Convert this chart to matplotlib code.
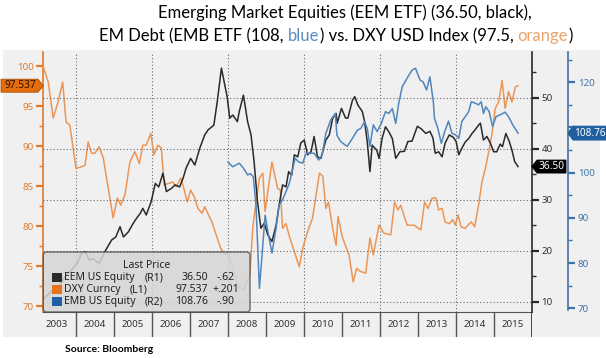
import numpy as np
import matplotlib.pyplot as plt
from matplotlib.patches import Rectangle, Polygon, FancyBboxPatch
from matplotlib.ticker import MultipleLocator

W, H = 606, 358

# --- data ---
dxy_t = [2003.14, 2003.27, 2003.40, 2003.53, 2003.65, 2003.74, 2003.84, 2004.00, 2004.15, 2004.24,
         2004.32, 2004.41, 2004.50, 2004.61, 2004.72, 2004.85, 2004.98, 2005.09, 2005.18, 2005.29,
         2005.42, 2005.55, 2005.67, 2005.76, 2005.85, 2005.97, 2006.05, 2006.16, 2006.25, 2006.32,
         2006.42, 2006.55, 2006.64, 2006.76, 2006.84, 2006.93, 2007.02, 2007.13, 2007.21, 2007.32,
         2007.39, 2007.49, 2007.58, 2007.69, 2007.81, 2007.93, 2008.00, 2008.13, 2008.27, 2008.42,
         2008.58, 2008.66, 2008.83, 2008.92, 2008.98, 2009.16, 2009.31, 2009.38, 2009.44, 2009.53,
         2009.62, 2009.75, 2009.88, 2009.97, 2010.10, 2010.23, 2010.41, 2010.50, 2010.58, 2010.65,
         2010.76, 2010.85, 2010.90, 2011.01, 2011.10, 2011.19, 2011.30, 2011.39, 2011.50, 2011.63,
         2011.74, 2011.83, 2011.98, 2012.11, 2012.29, 2012.39, 2012.48, 2012.55, 2012.72, 2012.90,
         2013.08, 2013.18, 2013.27, 2013.38, 2013.48, 2013.55, 2013.64, 2013.72, 2013.83, 2013.92,
         2013.99, 2014.06, 2014.14, 2014.25, 2014.32, 2014.41, 2014.50, 2014.60, 2014.69, 2014.78,
         2014.87, 2014.95, 2015.04, 2015.13, 2015.22, 2015.30, 2015.39, 2015.48, 2015.57, 2015.64]
dxy_v = [99.9, 98.0, 93.5, 95.5, 98.0, 93.0, 92.6, 87.2, 87.4, 87.6,
         90.5, 89.1, 89.1, 89.9, 88.5, 84.7, 81.0, 83.5, 82.6, 83.9,
         88.0, 89.3, 87.8, 90.1, 90.1, 91.6, 88.9, 90.1, 89.7, 85.1,
         85.3, 85.5, 84.9, 86.0, 84.7, 83.0, 84.5, 83.5, 82.2, 81.6,
         82.4, 81.4, 80.5, 78.9, 77.2, 76.4, 76.6, 74.7, 72.5, 72.0,
         74.0, 80.0, 86.0, 86.6, 81.8, 88.0, 84.7, 84.5, 79.7, 80.3,
         78.7, 76.8, 74.9, 77.2, 79.3, 81.0, 86.6, 86.2, 82.2, 83.0,
         79.7, 77.6, 81.2, 78.7, 77.5, 76.4, 73.0, 74.7, 74.3, 74.1,
         78.5, 76.4, 80.1, 79.1, 78.9, 83.0, 82.0, 82.6, 80.1, 80.1,
         79.5, 83.0, 82.2, 83.5, 83.5, 82.0, 82.2, 80.5, 80.3, 80.8,
         80.1, 81.4, 79.9, 79.7, 80.1, 80.5, 79.9, 82.6, 85.5, 87.2,
         89.3, 91.4, 94.7, 95.5, 98.2, 94.7, 96.8, 95.5, 97.4, 97.537]

eem_t = [2003.14, 2003.35, 2003.58, 2003.74, 2003.93, 2004.05, 2004.15, 2004.24, 2004.35, 2004.46,
         2004.61, 2004.76, 2004.94, 2005.05, 2005.16, 2005.25, 2005.38, 2005.51, 2005.60, 2005.69,
         2005.76, 2005.85, 2005.98, 2006.09, 2006.18, 2006.29, 2006.38, 2006.51, 2006.61, 2006.73,
         2006.82, 2006.90, 2007.02, 2007.13, 2007.26, 2007.39, 2007.48, 2007.63, 2007.72, 2007.83,
         2007.92, 2007.98, 2008.05, 2008.13, 2008.25, 2008.30, 2008.41, 2008.52, 2008.61, 2008.69,
         2008.78, 2008.87, 2008.96, 2009.05, 2009.16, 2009.27, 2009.35, 2009.44, 2009.53, 2009.60,
         2009.68, 2009.75, 2009.84, 2009.92, 2010.01, 2010.10, 2010.19, 2010.27, 2010.36, 2010.45,
         2010.58, 2010.67, 2010.76, 2010.85, 2010.88, 2010.99, 2011.10, 2011.16, 2011.28, 2011.34,
         2011.42, 2011.54, 2011.60, 2011.67, 2011.74, 2011.80, 2011.92, 2011.98, 2012.06, 2012.15,
         2012.24, 2012.33, 2012.42, 2012.53, 2012.65, 2012.74, 2012.85, 2012.99, 2013.09, 2013.21,
         2013.32, 2013.40, 2013.46, 2013.55, 2013.64, 2013.72, 2013.83, 2013.94, 2014.01, 2014.08,
         2014.16, 2014.25, 2014.34, 2014.43, 2014.51, 2014.60, 2014.65, 2014.73, 2014.82, 2014.91,
         2015.00, 2015.08, 2015.17, 2015.23, 2015.32, 2015.41, 2015.48, 2015.55, 2015.64]
eem_v = [10.5, 12.0, 13.3, 15.2, 16.6, 17.8, 19.5, 19.8, 18.2, 18.4,
         17.5, 19.8, 22.1, 22.7, 24.7, 22.7, 23.7, 25.4, 26.4, 27.3,
         28.3, 27.0, 29.6, 33.2, 32.5, 35.2, 31.6, 32.2, 32.9, 32.5,
         34.2, 36.2, 38.1, 36.8, 40.1, 42.7, 43.7, 44.6, 49.2, 55.8,
         52.5, 50.2, 46.0, 46.6, 45.3, 47.3, 50.5, 45.3, 42.7, 37.5,
         29.6, 24.4, 25.4, 23.1, 21.8, 25.0, 29.0, 32.9, 32.5, 35.5,
         34.8, 38.8, 38.4, 41.1, 41.7, 38.8, 39.4, 42.4, 38.4, 38.1,
         41.7, 42.7, 46.0, 46.9, 45.0, 47.9, 46.0, 46.0, 49.5, 50.2,
         48.6, 47.3, 45.3, 41.4, 35.5, 40.7, 39.7, 38.1, 42.0, 44.3,
         43.3, 42.0, 38.1, 39.4, 39.5, 41.4, 41.5, 44.4, 43.9, 43.0,
         43.4, 42.1, 39.1, 39.4, 38.4, 41.1, 42.7, 42.2, 41.4, 38.8,
         40.1, 41.3, 42.0, 43.0, 43.7, 44.6, 45.0, 41.7, 42.4, 41.1,
         39.4, 39.4, 40.9, 40.4, 43.0, 41.4, 39.7, 37.5, 36.50]

emb_t = [2008.00, 2008.13, 2008.21, 2008.30, 2008.41, 2008.52, 2008.59, 2008.67, 2008.74, 2008.78,
         2008.83, 2008.90, 2008.98, 2009.07, 2009.16, 2009.27, 2009.35, 2009.44, 2009.53, 2009.62,
         2009.69, 2009.77, 2009.86, 2009.97, 2010.06, 2010.16, 2010.27, 2010.39, 2010.48, 2010.58,
         2010.71, 2010.83, 2010.87, 2010.97, 2011.14, 2011.28, 2011.41, 2011.50, 2011.60, 2011.67,
         2011.74, 2011.83, 2011.93, 2012.04, 2012.15, 2012.24, 2012.33, 2012.42, 2012.50, 2012.59,
         2012.74, 2012.85, 2012.94, 2013.06, 2013.14, 2013.23, 2013.32, 2013.41, 2013.44, 2013.53,
         2013.62, 2013.71, 2013.81, 2013.90, 2014.01, 2014.08, 2014.16, 2014.25, 2014.34, 2014.41,
         2014.51, 2014.60, 2014.67, 2014.73, 2014.79, 2014.88, 2014.97, 2015.06, 2015.17, 2015.30,
         2015.39, 2015.50, 2015.64]
emb_v = [102.4, 101.3, 101.7, 102.1, 101.0, 99.5, 99.8, 99.1, 92.9, 84.7,
         74.4, 81.8, 90.6, 86.2, 82.2, 87.7, 92.9, 94.0, 95.8, 97.7,
         100.2, 103.2, 102.4, 102.1, 104.3, 104.3, 104.3, 102.8, 103.9, 108.7,
         111.7, 113.1, 108.3, 106.9, 105.8, 107.6, 109.4, 109.8, 111.3, 109.8,
         105.8, 110.6, 109.1, 110.9, 113.5, 113.1, 114.2, 110.9, 115.4, 119.0,
         121.2, 122.7, 123.1, 120.5, 120.1, 118.3, 121.2, 115.7, 112.0, 109.8,
         106.5, 109.1, 111.4, 108.7, 108.3, 107.6, 111.3, 112.4, 113.5, 115.7,
         115.4, 115.0, 115.7, 113.1, 114.6, 113.5, 110.2, 112.4, 112.8, 113.4,
         112.4, 110.6, 108.76]

years = list(range(2003, 2016))
dxy_ticks = [70, 75, 80, 85, 90, 95, 100]
eem_ticks = [10, 20, 30, 40, 50]
emb_ticks = [70, 80, 90, 100, 110, 120]
emb_labels = ['70', '80', '90', '100', '', '120']  # 110 sits under the last-price tag

legend_rows = [
    ("EEM US Equity", "(R1)", "36.50", "-.62"),
    ("DXY Curncy", "(L1)", "97.537", "+.201"),
    ("EMB US Equity", "(R2)", "108.76", "-.90"),
]

ORANGE = '#ec9656'
ORANGE_AX = '#e07a2c'
BLACK = '#2a2a2a'
BLUE = '#5285bb'
BLUE_AX = '#3f72a6'
BG = '#f0f0f0'
GRID = '#6a6a6a'

TICK_FONT = 'Noto Sans'
TITLE_FONT = 'Lato'


def fx(x):
    return x / W


def fy(y):
    return 1 - y / H


fig = plt.figure(figsize=(W / 100, H / 100), dpi=100)
fig.patch.set_facecolor('white')

# grey chart background
fig.add_artist(Rectangle((fx(3), fy(337)), fx(600) - fx(3), fy(50) - fy(337),
                         transform=fig.transFigure, facecolor=BG, edgecolor='none', zorder=-5))

# plot area in pixels
L, R, T, B = 43.3, 531.7, 52, 312
rect = [fx(L), fy(B), fx(R) - fx(L), fy(T) - fy(B)]

ax = fig.add_axes(rect)
ax.set_facecolor('none')
ax_r1 = ax.twinx()
ax_r2 = ax.twinx()

xlim = (2003.14, 2016.0)
ax.set_xlim(*xlim)
ax.set_ylim(69.25, 101.75)
ax_r1.set_ylim(7.98, 58.96)
ax_r2.set_ylim(69.18, 126.7)

ax.plot(dxy_t, dxy_v, color=ORANGE, lw=1.1, zorder=3)
ax_r1.plot(eem_t, eem_v, color=BLACK, lw=1.1, zorder=3)
ax_r2.plot(emb_t, emb_v, color=BLUE, lw=1.1, zorder=3)

# grid: vertical every two years, horizontal on the R1 ticks
ax.set_xticks([2004, 2006, 2008, 2010, 2012, 2014])
ax.tick_params(axis='x', length=0, labelbottom=False)
ax.xaxis.grid(True, color=GRID, ls=(0, (1, 2)), lw=0.8)
ax_r1.yaxis.grid(True, color=GRID, ls=(0, (1, 2)), lw=0.8)
ax_r1.set_axisbelow(True)

for a in (ax, ax_r1, ax_r2):
    for s in a.spines.values():
        s.set_visible(False)

ax.spines['bottom'].set_visible(True)
ax.spines['bottom'].set_color('#555555')
ax.spines['left'].set_visible(True)
ax.spines['left'].set_color(ORANGE_AX)
ax.spines['left'].set_linewidth(1.2)

ax_r1.spines['right'].set_visible(True)
ax_r1.spines['right'].set_color(BLACK)
ax_r1.spines['right'].set_linewidth(1.2)

ax_r2.spines['right'].set_visible(True)
ax_r2.spines['right'].set_position(('axes', 1 + 36.3 / (R - L)))
ax_r2.spines['right'].set_color(BLUE_AX)
ax_r2.spines['right'].set_linewidth(1.2)
ax_r2.spines['right'].set_bounds(69.6, 126.7)

ax.set_yticks(dxy_ticks)
ax.yaxis.set_minor_locator(MultipleLocator(2.5))
ax.tick_params(axis='y', which='major', colors=ORANGE_AX, length=5, width=1.6, pad=2,
               labelsize=7, labelcolor=ORANGE_AX)
ax.tick_params(axis='y', which='minor', colors=ORANGE_AX, length=3, width=1)

ax_r1.set_yticks(eem_ticks)
ax_r1.yaxis.set_minor_locator(MultipleLocator(5))
ax_r1.tick_params(axis='y', which='major', colors=BLACK, length=5, width=1.6, pad=2,
                  labelsize=7, labelcolor='#333333')
ax_r1.tick_params(axis='y', which='minor', colors=BLACK, length=3, width=1)

ax_r2.set_yticks(emb_ticks)
ax_r2.set_yticklabels(emb_labels)
ax_r2.yaxis.set_minor_locator(MultipleLocator(5))
ax_r2.tick_params(axis='y', which='major', colors=BLUE_AX, length=5, width=1.6, pad=2,
                  labelsize=7, labelcolor=BLUE_AX)
ax_r2.tick_params(axis='y', which='minor', colors=BLUE_AX, length=3, width=1)

for a in (ax, ax_r1, ax_r2):
    for lab in a.get_yticklabels():
        lab.set_family(TICK_FONT)

# year band under the plot
ax_y = fig.add_axes([fx(L), fy(337), fx(R) - fx(L), fy(B) - fy(337)])
ax_y.set_xlim(*xlim)
ax_y.set_ylim(0, 1)
ax_y.axis('off')
for yr in years[1:]:
    ax_y.axvline(yr, color='#555555', lw=1)
ax_y.axvline(2016, color=BLACK, lw=1.2)
for yr in years:
    ax_y.text(yr + 0.5, 0.5, str(yr), ha='center', va='center', fontsize=7,
              family=TICK_FONT, color='#333333')

# overlay in pixel coordinates for legend box and last-price labels
ov = fig.add_axes([0, 0, 1, 1], zorder=10)
ov.set_xlim(0, W)
ov.set_ylim(H, 0)
ov.axis('off')


def to_px(a, x, y):
    dx, dy = a.transData.transform((x, y))
    return dx, H - dy


# legend box
ov.add_patch(FancyBboxPatch((L, 252), 250 - L, B - 252, boxstyle='round,pad=0,rounding_size=3',
                            facecolor='#d6d6d6', edgecolor='#505050', lw=1, alpha=0.85))
ov.text(147, 265.5, "Last Price", ha='center', va='center', fontsize=7.5, family=TICK_FONT,
        color='#222222')
sq_colors = [BLACK, '#e8731f', '#1f5fa8']
for i, (name, side, last, chg) in enumerate(legend_rows):
    yy = 277.5 + i * 12.2
    ov.add_patch(Rectangle((52, yy - 4.5), 9.5, 9, facecolor=sq_colors[i], edgecolor='none'))
    ov.text(64, yy, name, ha='left', va='center', fontsize=7.5, family=TICK_FONT, color='#222222')
    ov.text(145 if side != "(L1)" else 130, yy, side, ha='left', va='center', fontsize=7.5,
            family=TICK_FONT, color='#222222')
    ov.text(208, yy, last, ha='right', va='center', fontsize=7.5, family=TICK_FONT, color='#222222')
    ov.text(212 if chg.startswith('+') else 217, yy, chg, ha='left', va='center', fontsize=7.5,
            family=TICK_FONT, color='#222222')

# last-price tags
_, cy = to_px(ax, dxy_t[-1], dxy_v[-1])
ov.add_patch(Polygon([(1, cy - 6.5), (38, cy - 6.5), (L, cy), (38, cy + 6.5), (1, cy + 6.5)],
                     closed=True, facecolor='#e46c0a', edgecolor='#a84e06', lw=0.6))
ov.text(20, cy, f"{dxy_v[-1]:.3f}", ha='center', va='center', fontsize=7.3, family=TICK_FONT,
        color='#2b1200')

_, cy = to_px(ax_r1, eem_t[-1], eem_v[-1])
ov.add_patch(Polygon([(R, cy), (537, cy - 6.5), (566, cy - 6.5), (566, cy + 6.5), (537, cy + 6.5)],
                     closed=True, facecolor='black', edgecolor='black', lw=0.6))
ov.text(551.5, cy, f"{eem_v[-1]:.2f}", ha='center', va='center', fontsize=7.3, family=TICK_FONT,
        color='white')

_, cy = to_px(ax_r2, emb_t[-1], emb_v[-1])
ov.add_patch(Polygon([(567.7, cy), (573, cy - 7), (612, cy - 7), (612, cy + 7), (573, cy + 7)],
                     closed=True, facecolor='#1f5fa0', edgecolor='#1f5fa0', lw=0.6))
ov.text(574.5, cy, f"{emb_v[-1]:.2f}", ha='left', va='center', fontsize=7.2, family=TICK_FONT,
        color='white')

# title, second line has coloured words
renderer = fig.canvas.get_renderer()


def text_width(s, size):
    t = fig.text(0, 0, s, fontsize=size, family=TITLE_FONT)
    w = t.get_window_extent(renderer).width
    t.remove()
    return w


def coloured_line(parts, cx, cy, size):
    full = "".join(p for p, _ in parts)
    x0 = cx - text_width(full, size) / 2
    pos = 0
    for p, c in parts:
        end = pos + len(p)
        stripped = p.rstrip()
        start = x0 + text_width(full[:pos + len(stripped)], size) - text_width(stripped, size) \
            if pos > 0 else x0
        fig.text(fx(start), fy(cy), stripped, fontsize=size, family=TITLE_FONT, color=c,
                 ha='left', va='center')
        pos = end


TS = 12.0
fig.text(fx(345), fy(13), "Emerging Market Equities (EEM ETF) (36.50, black),", fontsize=TS,
         family=TITLE_FONT, color='black', ha='center', va='center')
coloured_line([("EM Debt (EMB ETF (108, ", 'black'), ("blue", '#5a8cc4'),
               (") vs. DXY USD Index (97.5, ", 'black'), ("orange", '#e8a46e'), (")", 'black')],
              336, 36, TS)

fig.text(fx(65), fy(349), "Source: Bloomberg", fontsize=7.5, family=TITLE_FONT, weight='bold',
         color='black', ha='left', va='center')

fig.savefig('out.png', dpi=100)
